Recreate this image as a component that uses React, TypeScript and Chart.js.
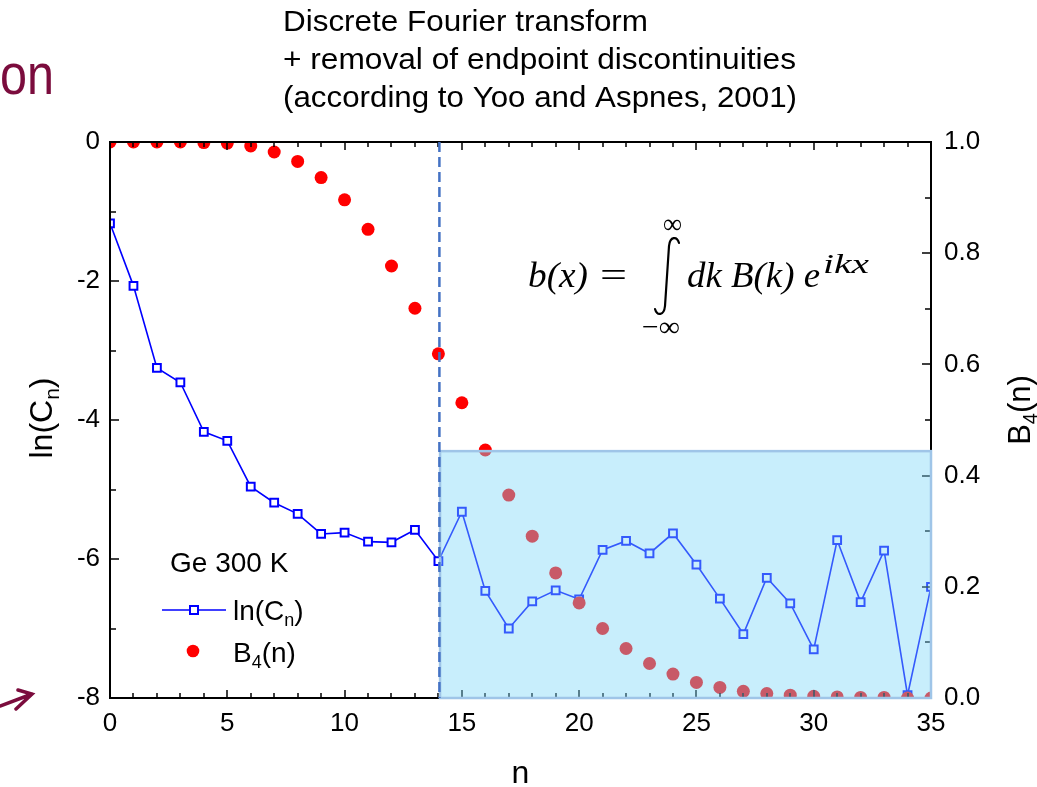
import React, { useEffect, useRef } from 'react';
import { Chart, registerables } from 'chart.js';

Chart.register(...registerables);

// ---------------- data ----------------
const nValues = [0, 1, 2, 3, 4, 5, 6, 7, 8, 9, 10, 11, 12, 13, 14, 15, 16, 17, 18, 19, 20, 21, 22, 23, 24, 25, 26, 27, 28, 29, 30, 31, 32, 33, 34, 35];
const lnCn = [-1.17, -2.07, -3.25, -3.46, -4.17, -4.3, -4.96, -5.19, -5.35, -5.64, -5.62, -5.75, -5.76, -5.58, -6.03, -5.32, -6.46, -7.0, -6.61, -6.45, -6.58, -5.87, -5.74, -5.92, -5.63, -6.08, -6.57, -7.08, -6.27, -6.64, -7.3, -5.73, -6.62, -5.88, -7.96, -6.4];
const b4n = [1.0, 1.0, 1.0, 1.0, 0.999, 0.998, 0.993, 0.982, 0.965, 0.936, 0.896, 0.843, 0.777, 0.701, 0.619, 0.531, 0.446, 0.365, 0.291, 0.225, 0.171, 0.125, 0.089, 0.062, 0.043, 0.028, 0.019, 0.012, 0.008, 0.005, 0.003, 0.002, 0.001, 0.001, 0.0, 0.0];

const xTickLabels = [0, 5, 10, 15, 20, 25, 30, 35];
const leftTickLabels = [0, -2, -4, -6, -8];
const rightTickLabels = [0.0, 0.2, 0.4, 0.6, 0.8, 1.0];

const titleLines = [
  'Discrete Fourier transform',
  '+ removal of endpoint discontinuities',
  '(according to Yoo and Aspnes, 2001)',
];
const sampleLabel = 'Ge 300 K';
const cutoffN = 14;
const highlightN = [14.07, 35];
const highlightB4Top = 0.444;

const SANS = '"Liberation Sans", Arial, sans-serif';
const SERIF = '"Liberation Serif", "Times New Roman", serif';
const MAROON = '#7b0c3d';

type Part = { t: string; sub?: boolean; sup?: boolean };

function richWidth(ctx: CanvasRenderingContext2D, parts: Part[], size: number, family: string) {
  let w = 0;
  for (const p of parts) {
    ctx.font = `${p.sub || p.sup ? Math.round(size * 0.65) : size}px ${family}`;
    w += ctx.measureText(p.t).width;
  }
  return w;
}

function drawRich(ctx: CanvasRenderingContext2D, parts: Part[], x: number, y: number, size: number, family: string, color: string) {
  ctx.fillStyle = color;
  ctx.textBaseline = 'alphabetic';
  ctx.textAlign = 'left';
  let cx = x;
  for (const p of parts) {
    const s = p.sub || p.sup ? Math.round(size * 0.65) : size;
    ctx.font = `${s}px ${family}`;
    const dy = p.sub ? size * 0.22 : p.sup ? -size * 0.4 : 0;
    ctx.fillText(p.t, cx, y + dy);
    cx += ctx.measureText(p.t).width;
  }
}

function fitText(ctx: CanvasRenderingContext2D, text: string, x: number, y: number, font: string, color: string, width: number) {
  ctx.save();
  ctx.font = font;
  ctx.fillStyle = color;
  ctx.textAlign = 'left';
  ctx.textBaseline = 'alphabetic';
  const w = ctx.measureText(text).width;
  ctx.translate(x, y);
  ctx.scale(width / w, 1);
  ctx.fillText(text, 0, 0);
  ctx.restore();
}

const decorPlugin = {
  id: 'decor',
  beforeDraw(chart: any) {
    const ctx = chart.ctx;
    ctx.save();
    ctx.fillStyle = '#ffffff';
    ctx.fillRect(0, 0, chart.width, chart.height);
    ctx.restore();
  },
  afterDatasetsDraw(chart: any) {
    const ctx: CanvasRenderingContext2D = chart.ctx;
    const a = chart.chartArea;
    const xs = chart.scales.x;
    const yl = chart.scales.y;
    const yr = chart.scales.y1;
    ctx.save();

    // frame
    ctx.strokeStyle = '#000';
    ctx.lineWidth = 2;
    ctx.strokeRect(a.left, a.top, a.right - a.left, a.bottom - a.top);

    // ticks (inward)
    ctx.lineWidth = 1.5;
    ctx.beginPath();
    for (let n = 0; n <= 35; n++) {
      const px = Math.round(xs.getPixelForValue(n));
      const len = n % 5 === 0 ? 8 : 5;
      ctx.moveTo(px, a.bottom);
      ctx.lineTo(px, a.bottom - len);
      ctx.moveTo(px, a.top);
      ctx.lineTo(px, a.top + len);
    }
    for (let v = -8; v <= 0; v++) {
      const py = Math.round(yl.getPixelForValue(v));
      const len = v % 2 === 0 ? 9 : 6;
      ctx.moveTo(a.left, py);
      ctx.lineTo(a.left + len, py);
    }
    for (let i = 0; i <= 10; i++) {
      const py = Math.round(yr.getPixelForValue(i / 10));
      const len = i % 2 === 0 ? 9 : 6;
      ctx.moveTo(a.right, py);
      ctx.lineTo(a.right - len, py);
    }
    ctx.stroke();

    // tick labels
    ctx.fillStyle = '#000';
    ctx.font = `26px ${SANS}`;
    ctx.textBaseline = 'middle';
    ctx.textAlign = 'center';
    for (const v of xTickLabels) ctx.fillText(String(v), xs.getPixelForValue(v), a.bottom + 26);
    ctx.textAlign = 'right';
    for (const v of leftTickLabels) ctx.fillText(String(v), a.left - 10, yl.getPixelForValue(v));
    ctx.textAlign = 'left';
    for (const v of rightTickLabels) ctx.fillText(v.toFixed(1), a.right + 13, yr.getPixelForValue(v));

    // highlight box
    const bx0 = xs.getPixelForValue(highlightN[0]);
    const bx1 = xs.getPixelForValue(highlightN[1]);
    const by0 = yr.getPixelForValue(highlightB4Top);
    const by1 = yr.getPixelForValue(0);
    ctx.fillStyle = 'rgba(124, 214, 248, 0.42)';
    ctx.fillRect(bx0, by0, bx1 - bx0, by1 - by0);
    ctx.strokeStyle = '#9fc5e8';
    ctx.lineWidth = 2.5;
    ctx.strokeRect(bx0, by0, bx1 - bx0, by1 - by0);

    // dashed cutoff line
    const cx = xs.getPixelForValue(cutoffN) + 1;
    ctx.strokeStyle = '#4472c4';
    ctx.lineWidth = 2.5;
    ctx.setLineDash([10, 5]);
    ctx.beginPath();
    ctx.moveTo(cx, a.top);
    ctx.lineTo(cx, a.bottom);
    ctx.stroke();
    ctx.setLineDash([]);

    // axis titles
    const lnParts: Part[] = [{ t: 'ln(C' }, { t: 'n', sub: true }, { t: ')' }];
    ctx.save();
    ctx.translate(52, 418);
    ctx.rotate(-Math.PI / 2);
    const lw = richWidth(ctx, lnParts, 32, SANS);
    drawRich(ctx, lnParts, -lw / 2, 0, 32, SANS, '#000');
    ctx.restore();

    const bParts: Part[] = [{ t: 'B' }, { t: '4', sub: true }, { t: '(n)' }];
    ctx.save();
    ctx.translate(1030, 410);
    ctx.rotate(-Math.PI / 2);
    const bw = richWidth(ctx, bParts, 31, SANS);
    drawRich(ctx, bParts, -bw / 2, 0, 31, SANS, '#000');
    ctx.restore();

    ctx.font = `32px ${SANS}`;
    ctx.fillStyle = '#000';
    ctx.textAlign = 'center';
    ctx.textBaseline = 'alphabetic';
    ctx.fillText('n', (a.left + a.right) / 2, 783);

    // legend
    ctx.textAlign = 'left';
    ctx.font = `28px ${SANS}`;
    ctx.fillText(sampleLabel, 170, 572);
    ctx.strokeStyle = '#0000ff';
    ctx.lineWidth = 1.5;
    ctx.beginPath();
    ctx.moveTo(162, 610);
    ctx.lineTo(226, 610);
    ctx.stroke();
    ctx.fillStyle = '#fff';
    ctx.fillRect(190, 606, 8, 8);
    ctx.lineWidth = 2;
    ctx.strokeRect(190, 606, 8, 8);
    drawRich(ctx, [{ t: 'ln(C' }, { t: 'n', sub: true }, { t: ')' }], 233, 620, 28, SANS, '#000');
    ctx.fillStyle = '#ff0000';
    ctx.beginPath();
    ctx.arc(193, 651, 6.3, 0, Math.PI * 2);
    ctx.fill();
    drawRich(ctx, [{ t: 'B' }, { t: '4', sub: true }, { t: '(n)' }], 233, 662, 28, SANS, '#000');

    // title
    const titleEnds = [648, 796, 797];
    const titleBase = [31, 69, 107];
    titleLines.forEach((line, i) => {
      fitText(ctx, line, 283, titleBase[i], `29px ${SANS}`, '#000', titleEnds[i] - 283);
    });

    // partial slide text and arrow
    fitText(ctx, 'on', 0, 94, `58px ${SANS}`, MAROON, 54);
    ctx.strokeStyle = MAROON;
    ctx.lineWidth = 3.5;
    ctx.lineCap = 'round';
    ctx.beginPath();
    ctx.moveTo(0, 706);
    ctx.lineTo(32, 694);
    ctx.moveTo(18, 690);
    ctx.lineTo(32, 694);
    ctx.lineTo(16, 709);
    ctx.stroke();
    ctx.lineCap = 'butt';

    // formula
    fitText(ctx, 'b(x)', 528, 287, `italic 36px ${SERIF}`, '#000', 60);
    fitText(ctx, '=', 600, 287, `36px ${SERIF}`, '#000', 27);
    fitText(ctx, 'dk B(k) e', 687, 287, `italic 36px ${SERIF}`, '#000', 133);
    fitText(ctx, 'ikx', 823, 273, `italic 28px ${SERIF}`, '#000', 46);
    // integral sign
    ctx.strokeStyle = '#000';
    ctx.lineWidth = 2.2;
    ctx.lineCap = 'round';
    ctx.beginPath();
    ctx.moveTo(679, 243);
    ctx.bezierCurveTo(677, 236, 670, 236, 669, 246);
    ctx.lineTo(665, 306);
    ctx.bezierCurveTo(664, 316, 657, 316, 655, 309);
    ctx.stroke();
    ctx.lineCap = 'butt';
    fitText(ctx, '∞', 663, 233, `28px ${SERIF}`, '#000', 19);
    fitText(ctx, '−∞', 642, 336, `28px ${SERIF}`, '#000', 38);

    ctx.restore();
  },
};

export default function App() {
  const canvasRef = useRef<HTMLCanvasElement | null>(null);

  useEffect(() => {
    const canvas = canvasRef.current;
    if (!canvas) return;
    const chart = new Chart(canvas, {
      type: 'scatter',
      data: {
        datasets: [
          {
            label: 'B4(n)',
            data: nValues.map((n, i) => ({ x: n, y: b4n[i] })),
            yAxisID: 'y1',
            showLine: false,
            pointStyle: 'circle',
            pointRadius: 6.5,
            pointBorderWidth: 0,
            pointBackgroundColor: '#ff0000',
            pointBorderColor: '#ff0000',
            backgroundColor: '#ff0000',
            clip: 0,
            order: 0,
          },
          {
            label: 'ln(Cn)',
            data: nValues.map((n, i) => ({ x: n, y: lnCn[i] })),
            yAxisID: 'y',
            showLine: true,
            borderColor: '#0000ff',
            borderWidth: 1.6,
            pointStyle: 'rect',
            pointRadius: 5.5,
            pointBorderWidth: 2,
            pointBorderColor: '#0000ff',
            pointBackgroundColor: '#ffffff',
            clip: 0,
            order: 1,
          } as any,
        ],
      },
      options: {
        responsive: false,
        animation: false,
        events: [],
        layout: { padding: { left: 110, right: 106, top: 142, bottom: 89 } },
        plugins: { legend: { display: false }, tooltip: { enabled: false }, title: { display: false } },
        scales: {
          x: { type: 'linear', min: 0, max: 35, display: false },
          y: { type: 'linear', min: -8, max: 0, display: false, position: 'left' },
          y1: { type: 'linear', min: 0, max: 1, display: false, position: 'right' },
        },
      },
      plugins: [decorPlugin],
    });
    return () => chart.destroy();
  }, []);

  return (
    <div style={{ position: 'absolute', left: 0, top: 0, width: 1037, height: 787, background: '#fff' }}>
      <canvas ref={canvasRef} width={1037} height={787} style={{ display: 'block', width: 1037, height: 787 }} />
    </div>
  );
}
